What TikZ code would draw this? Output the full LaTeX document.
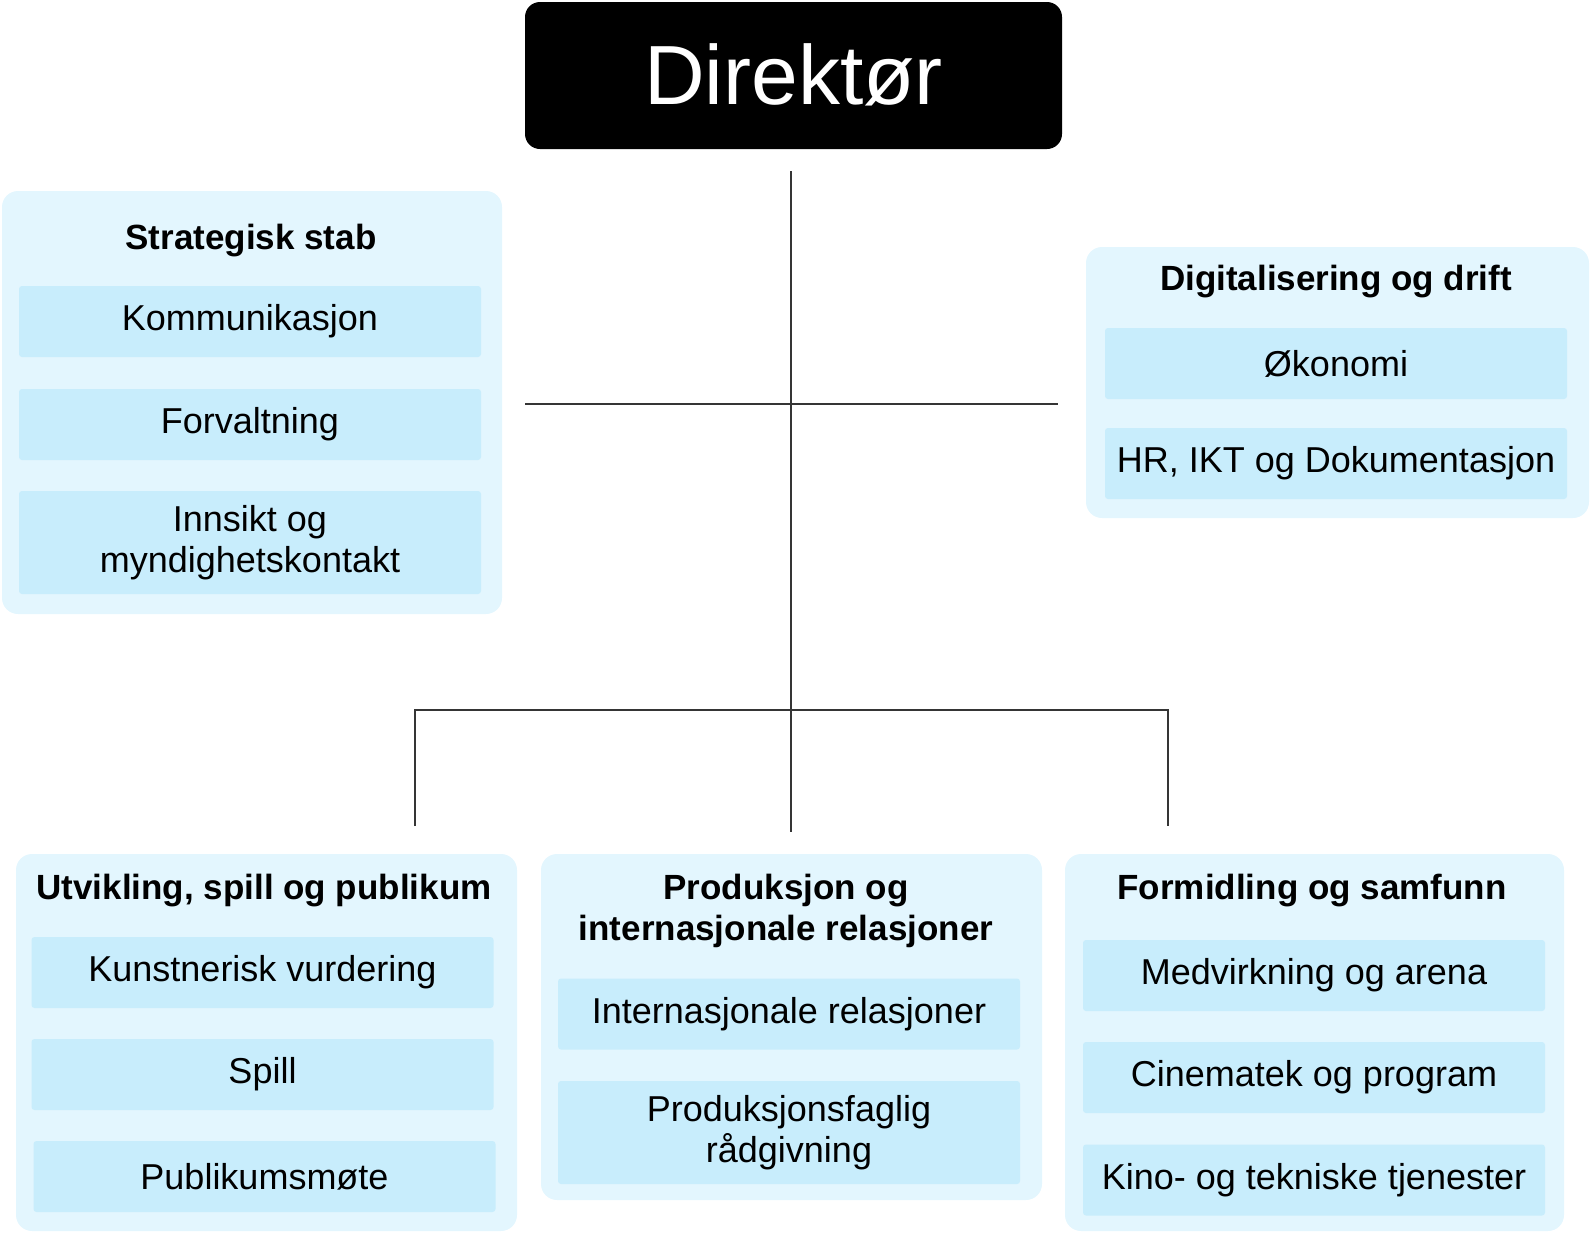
\documentclass[tikz,border=0pt]{standalone}
\usepackage{fontspec}
\setmainfont{Liberation Sans}
\usetikzlibrary{positioning}
\definecolor{panelblue}{HTML}{E3F6FE}
\definecolor{unitblue}{HTML}{C8EDFC}
\definecolor{linegray}{HTML}{353535}
\tikzstyle{director} = [
    rectangle,
    rounded corners=7.5pt,
    fill=black,
    text=white,
    minimum width=268.5pt,
    minimum height=73.5pt,
    inner sep=0pt,
    text depth=0.12em,
    font=\fontsize{42}{48}\selectfont
]
\tikzstyle{panel} = [
    rectangle,
    rounded corners=8pt,
    fill=panelblue,
    inner sep=0pt
]
\tikzstyle{unit} = [
    rectangle,
    rounded corners=1.5pt,
    fill=unitblue,
    minimum width=231pt,
    minimum height=35.5pt,
    inner sep=0pt,
    align=center,
    font=\fontsize{18}{20.5}\selectfont
]
\tikzstyle{heading} = [
    anchor=base,
    inner sep=0pt,
    align=center,
    font=\bfseries\fontsize{17.5}{20.5}\selectfont
]
\tikzstyle{orgline} = [
    draw=linegray,
    line width=1.4pt
]

\begin{document}
\begin{tikzpicture}[x=0.5pt, y=-0.5pt]
        \useasboundingbox (0,0) rectangle (1595,1232);

        \node (dir) [director] at (793.5,75.5) {Direktør};

        \node (stab) [panel, minimum width=250pt, minimum height=211.5pt] at (252,402.5) {};
        \node (digi) [panel, minimum width=251.5pt, minimum height=135.5pt] at (1337.5,382.5) {};
        \node (utv) [panel, minimum width=250.5pt, minimum height=188.5pt] at (266.5,1042.5) {};
        \node (prod) [panel, minimum width=250.5pt, minimum height=173pt] at (791.5,1027) {};
        \node (form) [panel, minimum width=249.5pt, minimum height=188.5pt] at (1314.5,1042.5) {};

        \node (stabtitle) [heading] at (251,249) {Strategisk stab};
        \node (komm) [unit] at (250,321.5) {Kommunikasjon};
        \node (forv) [unit] at (250,424.5) {Forvaltning};
        \node (innsikt) [unit, minimum height=51.5pt] at (250,542.5) {Innsikt og\\myndighetskontakt};

        \node (digititle) [heading] at (1336,290) {Digitalisering og drift};
        \node (oko) [unit] at (1336,363.5) {Økonomi};
        \node (hr) [unit] at (1336,463.5) {HR, IKT og Dokumentasjon};

        \node (utvtitle) [heading] at (264,899) {Utvikling, spill og publikum};
        \node (kunst) [unit] at (262.5,972.5) {Kunstnerisk vurdering};
        \node (spill) [unit] at (262.5,1074.5) {Spill};
        \node (pub) [unit] at (264.5,1176.5) {Publikumsmøte};

        \node (prodtitle) [heading] at (786,940) {Produksjon og\\internasjonale relasjoner};
        \node (intl) [unit] at (789,1014) {Internasjonale relasjoner};
        \node (rad) [unit, minimum height=51.5pt] at (789,1132.5) {Produksjonsfaglig\\rådgivning};

        \node (formtitle) [heading] at (1312,899) {Formidling og samfunn};
        \node (medv) [unit] at (1314,975.5) {Medvirkning og arena};
        \node (cine) [unit] at (1314,1077.5) {Cinematek og program};
        \node (kino) [unit] at (1314,1180) {Kino- og tekniske tjenester};

        \coordinate (top) at (791,171);
        \coordinate (hubL) at (525,404);
        \coordinate (hubR) at (1058,404);
        \coordinate (busL) at (415,710);
        \coordinate (busR) at (1168,710);
        \coordinate (dropL) at (415,826);
        \coordinate (dropM) at (791,832);
        \coordinate (dropR) at (1168,826);

        \draw[orgline] (top) -- (dropM);
        \draw[orgline] (hubL) -- (hubR);
        \draw[orgline] (dropL) -- (busL) -- (busR) -- (dropR);
    \end{tikzpicture}
\end{document}
